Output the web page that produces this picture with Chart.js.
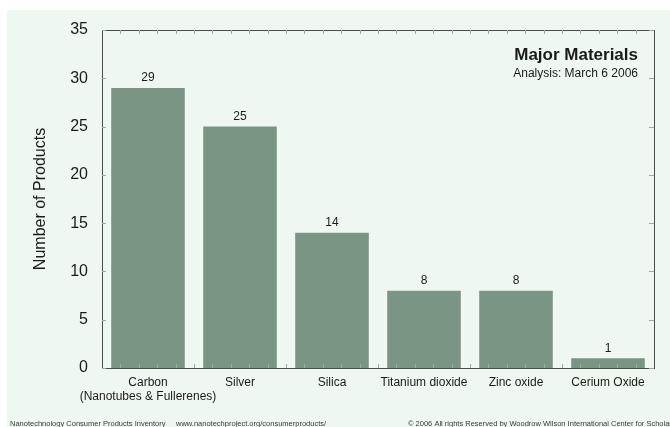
<!DOCTYPE html>
<html>
<head>
<meta charset="utf-8">
<script src="https://cdn.jsdelivr.net/npm/chart.js@4"></script>
<style>
  body { margin: 0; background: #ffffff; }
  canvas { display: block; }
</style>
</head>
<body>
<canvas id="chart" width="670" height="427"></canvas>
<script>
// Data
const materials = [['Carbon', '(Nanotubes & Fullerenes)'], 'Silver', 'Silica', 'Titanium dioxide', 'Zinc oxide', 'Cerium Oxide'];
const productCounts = [29, 25, 14, 8, 8, 1];
const yTicks = [0, 5, 10, 15, 20, 25, 30, 35];

const FONT = '"Liberation Sans", Arial, sans-serif';

// Draws the mint background, plot box, little tick marks, labels and footer
const decorations = {
    id: 'decorations',
    beforeDraw(chart) {
        const ctx = chart.ctx;
        ctx.save();
        ctx.fillStyle = '#ffffff';
        ctx.fillRect(0, 0, chart.width, chart.height);
        ctx.fillStyle = '#eef8f0';
        ctx.fillRect(7, 10, chart.width - 7, chart.height - 10);
        ctx.restore();
    },
    afterDraw(chart) {
        const ctx = chart.ctx;
        const area = chart.chartArea;
        const y = chart.scales.y;
        ctx.save();

        // box round the plot
        ctx.strokeStyle = '#4a4f4c';
        ctx.lineWidth = 1;
        ctx.strokeRect(Math.round(area.left) + 0.5, Math.round(area.top) + 0.5,
            Math.round(area.right - area.left), Math.round(area.bottom - area.top));

        // minor ticks on top and bottom, 5 per category
        ctx.strokeStyle = '#a0a8a3';
        const step = (area.right - area.left) / materials.length / 5;
        for (let i = 1; i < materials.length * 5; i++) {
            const px = Math.round(area.left + i * step) + 0.5;
            ctx.beginPath();
            ctx.moveTo(px, area.top);
            ctx.lineTo(px, area.top + 4);
            ctx.moveTo(px, area.bottom);
            ctx.lineTo(px, area.bottom - 4);
            ctx.stroke();
        }
        // major ticks on left and right, pointing in
        yTicks.forEach(v => {
            const py = Math.round(y.getPixelForValue(v)) + 0.5;
            ctx.beginPath();
            ctx.moveTo(area.left, py);
            ctx.lineTo(area.left + 4, py);
            ctx.moveTo(area.right, py);
            ctx.lineTo(area.right - 5, py);
            ctx.stroke();
        });

        // value labels above the bars
        ctx.fillStyle = '#1a1a1a';
        ctx.font = '12px ' + FONT;
        ctx.textAlign = 'center';
        ctx.textBaseline = 'bottom';
        const meta = chart.getDatasetMeta(0);
        meta.data.forEach((bar, i) => {
            ctx.fillText(String(productCounts[i]), bar.x, bar.y - 4);
        });

        // title in the corner
        ctx.textAlign = 'right';
        ctx.textBaseline = 'alphabetic';
        ctx.font = 'bold 17px ' + FONT;
        ctx.fillText('Major Materials', 638, 60);
        ctx.font = '12px ' + FONT;
        ctx.fillText('Analysis: March 6 2006', 638, 77);

        // footer
        ctx.fillStyle = '#3a3a3a';
        ctx.font = '7.5px ' + FONT;
        ctx.textAlign = 'left';
        ctx.fillText('Nanotechnology Consumer Products Inventory', 10, 426);
        ctx.fillText('www.nanotechproject.org/consumerproducts/', 176, 426);
        ctx.fillText('\u00A9 2006 All rights Reserved by Woodrow Wilson International Center for Scholars', 408, 426);
        ctx.restore();
    }
};

const ctx = document.getElementById('chart').getContext('2d');
const myChart = new Chart(ctx, {
    type: 'bar',
    data: {
        labels: materials,
        datasets: [{
            data: productCounts,
            backgroundColor: '#7a9584',
            borderWidth: 0,
            barPercentage: 0.8,
            categoryPercentage: 1.0
        }]
    },
    options: {
        responsive: false,
        animation: false,
        layout: { padding: { top: 30, right: 16, bottom: 0, left: 0 } },
        plugins: {
            legend: { display: false },
            tooltip: { enabled: false }
        },
        scales: {
            x: {
                grid: { display: false, drawTicks: false },
                border: { display: false },
                ticks: {
                    color: '#1a1a1a',
                    font: { family: FONT, size: 12 },
                    padding: 7,
                    maxRotation: 0,
                    autoSkip: false
                },
                afterFit(scale) { scale.height = 59; }
            },
            y: {
                min: 0,
                max: 35,
                grid: { display: false, drawTicks: false },
                border: { display: false },
                afterBuildTicks(scale) { scale.ticks = yTicks.map(v => ({ value: v })); },
                ticks: {
                    color: '#1a1a1a',
                    font: { family: FONT, size: 16 },
                    padding: 14
                },
                title: {
                    display: true,
                    text: 'Number of Products',
                    color: '#1a1a1a',
                    font: { family: FONT, size: 16 },
                    padding: { top: 31, bottom: 0 }
                },
                afterFit(scale) { scale.width = 102; }
            }
        }
    },
    plugins: [decorations]
});
</script>
</body>
</html>
